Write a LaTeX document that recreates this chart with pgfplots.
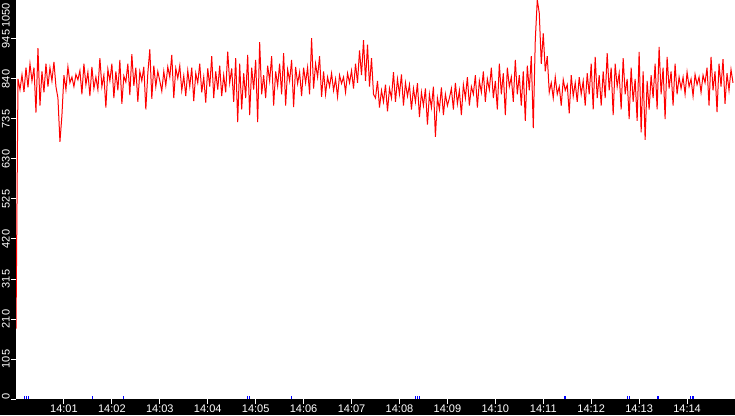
\documentclass[border=0pt]{standalone}
\usepackage{pgfplots}
\pgfplotsset{compat=1.18}
\usepackage{pgfplotstable}
\usepackage{fontspec}
\setmainfont{Liberation Sans}

% one reading every 2.5 s, 14:00 -- 14:15
\pgfplotstableread[row sep=\\]{
v\\ 185\\
840\\ 812\\ 851\\ 806\\ 870\\ 818\\ 880\\ 835\\
870\\ 752\\ 921\\ 770\\
860\\ 805\\ 880\\ 820\\ 870\\ 835\\ 885\\ 820\\
790\\ 675\\ 745\\
850\\ 812\\ 872\\ 830\\ 845\\ 820\\ 852\\ 838\\ 862\\ 800\\ 880\\ 825\\ 858\\ 795\\ 872\\ 815\\
845\\ 812\\ 895\\ 820\\ 850\\ 765\\ 866\\ 835\\ 880\\ 790\\ 860\\ 810\\ 890\\ 775\\ 848\\
832\\ 880\\ 798\\ 905\\ 822\\ 870\\ 780\\ 860\\ 835\\ 872\\ 760\\ 855\\ 918\\ 788\\ 875\\ 820\\ 860\\
835\\ 808\\ 860\\ 823\\ 872\\ 845\\ 903\\ 790\\ 868\\ 842\\
875\\ 810\\ 848\\ 795\\ 862\\ 820\\ 870\\ 782\\ 855\\ 830\\ 880\\ 805\\ 845\\ 778\\ 868\\ 820\\
900\\ 790\\ 860\\ 812\\ 875\\ 795\\ 850\\ 805\\ 912\\ 830\\ 868\\ 780\\
895\\ 727\\ 880\\ 760\\ 855\\ 790\\ 903\\ 745\\ 870\\ 812\\ 890\\
727\\ 937\\ 800\\ 850\\
790\\ 875\\ 835\\ 900\\ 770\\ 860\\ 822\\ 880\\ 800\\ 908\\ 770\\ 865\\ 835\\ 890\\ 766\\ 872\\ 828\\ 858\\ 795\\ 870\\
830\\ 870\\ 800\\ 947\\ 815\\ 880\\ 845\\ 900\\ 793\\ 860\\
800\\ 845\\ 820\\ 855\\ 810\\ 840\\ 793\\ 850\\ 828\\ 845\\ 805\\ 855\\ 830\\ 862\\ 815\\
880\\ 830\\ 915\\ 850\\ 942\\ 835\\ 930\\ 820\\ 895\\ 800\\
790\\ 835\\ 765\\ 810\\ 780\\ 825\\ 755\\ 815\\ 790\\
858\\ 780\\ 840\\ 800\\ 852\\ 770\\ 830\\
795\\ 825\\ 760\\ 815\\ 780\\ 829\\ 740\\ 805\\ 770\\ 815\\ 720\\ 800\\ 765\\ 820\\ 688\\ 790\\ 760\\ 818\\ 745\\ 800\\ 770\\
790\\ 815\\ 760\\ 830\\ 775\\ 810\\ 745\\ 825\\ 790\\ 845\\ 770\\ 820\\ 800\\ 850\\ 765\\ 835\\ 805\\ 860\\ 780\\ 840\\ 812\\ 870\\ 790\\
835\\ 760\\ 880\\ 800\\ 855\\ 745\\ 870\\ 820\\ 845\\ 780\\ 890\\ 800\\ 850\\ 770\\ 860\\ 730\\ 875\\ 810\\ 900\\
711\\ 942\\ 1048\\ 1013\\ 880\\ 960\\ 860\\ 900\\
805\\ 830\\ 790\\ 845\\ 800\\ 820\\ 770\\ 838\\ 810\\ 825\\ 750\\ 850\\ 795\\ 830\\ 780\\ 845\\ 800\\ 835\\ 770\\ 855\\
800\\ 880\\ 760\\ 898\\ 790\\ 850\\ 770\\
860\\ 790\\ 908\\ 810\\ 870\\ 745\\ 880\\ 820\\ 855\\ 760\\ 895\\ 800\\ 840\\ 735\\ 870\\
780\\ 840\\ 730\\ 911\\ 700\\ 860\\ 680\\ 835\\ 760\\
850\\ 790\\ 880\\ 760\\ 924\\ 800\\ 870\\ 735\\ 898\\ 815\\ 860\\ 770\\ 880\\ 800\\ 845\\
815\\ 845\\ 800\\ 858\\ 820\\ 840\\ 795\\ 852\\ 825\\ 845\\ 805\\ 850\\ 830\\
870\\ 770\\ 898\\ 810\\ 860\\ 753\\ 880\\ 820\\ 892\\ 775\\ 855\\ 810\\ 865\\ 830\\
}\hr

\begin{document}
\begin{tikzpicture}
\fill[black] (0,0) rectangle (735pt,415pt);
\begin{axis}[
	at={(16pt,16pt)}, anchor=south west,
	scale only axis,
	width=719pt, height=400pt,
	xmin=0, xmax=15, ymin=0, ymax=1050,
	axis background/.style={fill=white},
	axis line style={draw=none},
	xtick={1,...,14},
	xticklabels={14:01,14:02,14:03,14:04,14:05,14:06,14:07,14:08,14:09,14:10,14:11,14:12,14:13,14:14},
	ytick={0,105,...,1050},
	yticklabels={\makebox[12pt][r]{0},105,210,315,420,525,630,735,840,945,\makebox[58pt][l]{1050}},
	xtick pos=bottom, ytick pos=left,
	tick align=outside,
	major tick length=5pt,
	tick style={white, line width=1pt},
	ticklabel style={white, font=\fontsize{11}{13}\selectfont},
	xticklabel style={inner sep=0pt, yshift=-1pt},
	yticklabel style={rotate=90, anchor=south, inner sep=1pt},
]
\addplot[blue, ycomb, line width=0.7pt, no markers] coordinates {
(0.18,7) (0.22,7) (0.26,7) (1.59,7) (2.23,7) (4.82,7) (4.86,7) (5.75,7)
(8.33,7) (8.37,7) (8.41,7) (11.43,7) (11.47,7) (12.75,7) (12.79,7)
(13.37,7) (13.41,7) (14.06,7) (14.10,7) (14.14,7)
};
\addplot[red, line width=1pt, no markers] table[x expr=\coordindex/24, y=v] {\hr};
\end{axis}
\pgfresetboundingbox
\useasboundingbox (0,0) rectangle (735pt,415pt);
\end{tikzpicture}
\end{document}
